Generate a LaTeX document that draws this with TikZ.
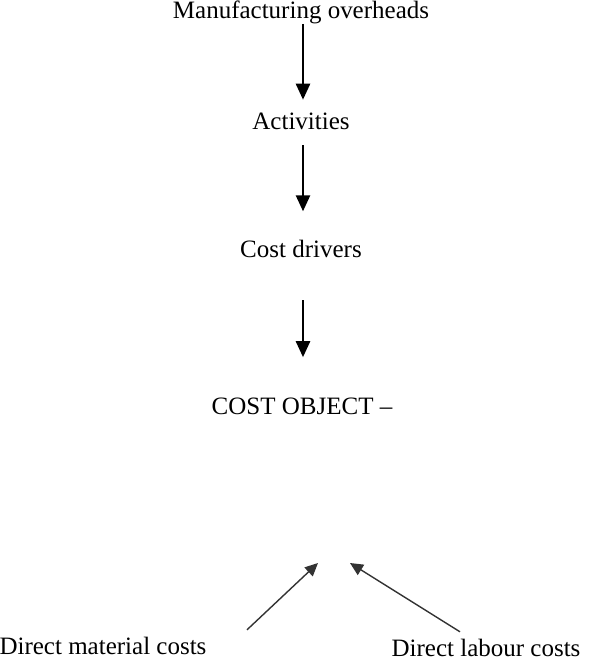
\documentclass[tikz,border=0pt]{standalone}
\usepackage{fontspec}
\setmainfont{Liberation Serif}
\usepackage{tikz}
\usetikzlibrary{arrows.meta,positioning,calc}
\tikzset{
    level/.style={inner sep=0pt,font=\fontsize{12.5}{15}\selectfont},
    flow down/.style={line width=1.25pt,-{Triangle[length=8pt,width=7pt]}},
    flow up/.style={line width=0.7pt,draw=black!80,-{Triangle[length=6.5pt,width=6pt]}}
}

\begin{document}
\begin{tikzpicture}[x=0.5pt,y=-0.5pt]
        \useasboundingbox (0,0) rectangle (589,659);

        \node[level] (mo) at (301,12) {Manufacturing overheads};
        \node[level] (act) at (301,121) {Activities};
        \node[level] (cd) at (301,249) {Cost drivers};
        \node[level] (co) at (302,406) {COST OBJECT --};
        \node[level] (dmc) at (103,646) {Direct material costs};
        \node[level] (dlc) at (486,648) {Direct labour costs};

        \coordinate (tipL) at (318,563);
        \coordinate (tipR) at (350,563);

        \draw[flow down,shorten >=6.25pt] ([xshift=1pt]mo.south) -- ([xshift=1pt]act.north);
        \draw[flow down,shorten <=7.75pt,shorten >=14.25pt] ([xshift=1pt]act.south) -- ([xshift=1pt]cd.north);
        \draw[flow down,shorten <=21pt,shorten >=20pt] ([xshift=1pt]cd.south) -- ([xshift=0.5pt]co.north);

        \draw[flow up] ([shift={(144,-7)}]dmc.north) -- (tipL);
        \draw[flow up] ([shift={(-26,-7)}]dlc.north) -- (tipR);
    \end{tikzpicture}
\end{document}
